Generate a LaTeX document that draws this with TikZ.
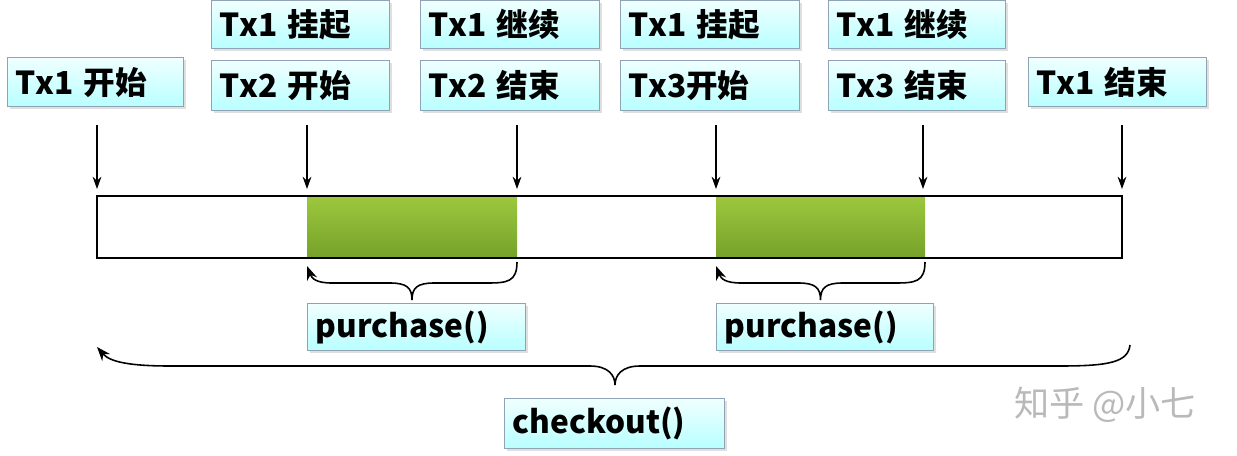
\documentclass[tikz,border=0pt]{standalone}
\usepackage{fontspec}
\setmainfont{Noto Sans CJK SC}
\usetikzlibrary{arrows.meta,shadows}
\definecolor{gtop}{HTML}{9CC83E}
\definecolor{gbot}{HTML}{76A12A}
\definecolor{bord}{HTML}{8FA3B5}
\begin{document}
\begin{tikzpicture}[x=0.02cm,y=-0.02cm,
  lbl/.style={draw=bord,line width=0.8pt,top color=cyan!6,bottom color=cyan!28,
    drop shadow={opacity=0.25,shadow xshift=1.2pt,shadow yshift=-1.2pt},
    anchor=north west,inner ysep=0pt,inner xsep=0.16cm,align=left,
    font=\bfseries\fontsize{18}{18}\selectfont},
  arr/.style={-{Stealth[length=7pt,width=5pt]},line width=0.7pt},
  brc/.style={line width=0.9pt,-{Stealth[length=8pt,width=6pt]}},
  grn/.style={draw=none,top color=gtop,bottom color=gbot}]
\useasboundingbox (0,0) rectangle (1237,456);
\newcommand\bx[6]{\node[lbl,text width=(#3-16)*0.02cm,minimum height=#4*0.02cm] (#5) at (#1,#2) {#6};}
\bx{7}{57}{176}{49}{a1}{Tx1 开始}
\bx{211}{0}{178}{48}{a2}{Tx1 挂起}
\bx{211}{60}{178}{50}{a3}{Tx2 开始}
\bx{420}{0}{179}{48}{a4}{Tx1 继续}
\bx{420}{60}{179}{50}{a5}{Tx2 结束}
\bx{620}{0}{179}{48}{a6}{Tx1 挂起}
\bx{620}{60}{179}{50}{a7}{Tx3开始}
\bx{828}{0}{177}{48}{a8}{Tx1 继续}
\bx{828}{60}{177}{50}{a9}{Tx3 结束}
\bx{1028}{57}{178}{49}{a10}{Tx1 结束}
\bx{307}{303}{218}{47}{p1}{purchase()}
\bx{716}{303}{217}{47}{p2}{purchase()}
\bx{504}{398}{220}{50}{c1}{checkout()}
% bar
\draw[line width=0.7pt] (97,196) rectangle (1122,258);
\fill[grn] (307,196) rectangle (517,258);
\fill[grn] (716,196) rectangle (925,258);
\draw[line width=0.7pt] (97,196) -- (1122,196) (97,258) -- (1122,258);
% arrows
\foreach \x/\n in {97/t1,307/t2,517/t3,716/t4,923/t5,1122/t6}{
  \coordinate (\n s) at (\x,125); \coordinate (\n e) at (\x,189);
  \draw[arr] (\n s) -- (\n e);}
% small braces
\foreach \l/\r/\n in {307/517/b1,716/925/b2}{
  \coordinate (\n r) at (\r,262); \coordinate (\n l) at (\l,266);
  \pgfmathsetmacro\m{(\l+\r)/2}
  \coordinate (\n m) at (\m,300);
  \draw[brc] (\n r) .. controls (\r,282) and (\r-10,283) .. (\r-30,283)
    -- (\m+22,283) .. controls (\m+5,283) and (\m,288) .. (\n m)
    .. controls (\m,288) and (\m-5,283) .. (\m-22,283)
    -- (\l+25,283) .. controls (\l+10,283) and (\l+5,279) .. (\n l);}
% big brace
\coordinate (Br) at (1130,345); \coordinate (Bl) at (97,347); \coordinate (Bm) at (615,385);
\draw[brc] (Br) .. controls (1128,362) and (1110,366) .. (1060,366)
  -- (640,366) .. controls (622,366) and (615,375) .. (Bm)
  .. controls (615,375) and (608,366) .. (590,366)
  -- (170,366) .. controls (130,366) and (110,362) .. (Bl);
\node[text=gray!55,font=\fontsize{20}{20}\selectfont,anchor=west] (wm) at (1008,405) {知乎 @小七};
\end{tikzpicture}
\end{document}
